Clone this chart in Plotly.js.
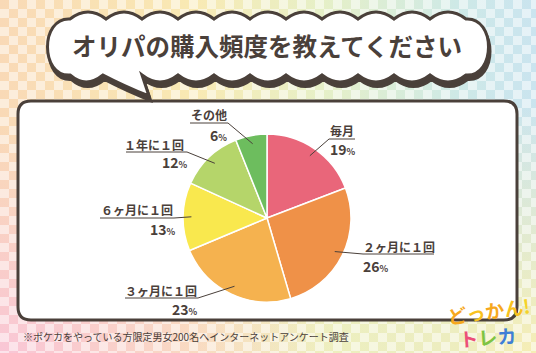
<!DOCTYPE html>
<html>
<head>
<meta charset="utf-8">
<script src="https://cdn.plot.ly/plotly-3.0.1.min.js"></script>
<style>
html,body{margin:0;padding:0;}
body{width:536px;height:353px;overflow:hidden;
background:
 conic-gradient(rgba(255,255,255,0.55) 0 25%, rgba(255,255,255,0.08) 0 50%, rgba(255,255,255,0.55) 0 75%, rgba(255,255,255,0.08) 0) 0 0/18px 18px,
 radial-gradient(ellipse at 0% 100%, rgba(249,192,212,0.95), rgba(249,192,212,0) 45%),
 radial-gradient(ellipse at 100% 100%, rgba(250,238,168,0.9), rgba(250,238,168,0) 50%),
 linear-gradient(to right, #f8d6b0 0%, #f9e7ac 35%, #e4efc2 60%, #cae7e4 85%, #c6e2ee 100%);}
#chart{width:536px;height:353px;}
</style>
</head>
<body>
<div id="chart"></div>
<script>
// ---- data ----
const categories = ['毎月', '２ヶ月に１回', '３ヶ月に１回', '６ヶ月に１回', '１年に１回', 'その他'];
const values = [19, 26, 23, 13, 12, 6];
const titleText = 'オリパの購入頻度を教えてください';
const noteText = '※ポケカをやっている方限定男女200名へインターネットアンケート調査';

// ---- style ----
const colors = ['#e9667a', '#ef9148', '#f5b24f', '#f9e84e', '#b5d56a', '#6dbd5e'];
const dark = '#4a403a';
const FONT = 'Noto Sans CJK JP, Noto Sans, sans-serif';
const W = 536, H = 353;
const px = x => x / W, py = y => 1 - y / H;
const CX = 267, CY = 218, R = 84;

// label placement (pixels)
const labelPos = [
  {nx:342, ny:130, nal:'center', ux0:329, ux1:355, uy:139, ex:329, px:343, py:149, pal:'center'},
  {nx:362, ny:246, nal:'left',   ux0:363, ux1:434, uy:254, ex:363, px:362, py:266, pal:'left'},
  {nx:198, ny:290, nal:'right',  ux0:125, ux1:198, uy:298, ex:198, px:199, py:309, pal:'right'},
  {nx:174, ny:209, nal:'right',  ux0:100, ux1:174, uy:218, ex:174, px:177, py:229, pal:'right'},
  {nx:185, ny:144, nal:'right',  ux0:126, ux1:187, uy:152, ex:187, px:189, py:162, pal:'right'},
  {nx:228, ny:115, nal:'right',  ux0:190, ux1:228, uy:123, ex:228, px:228, py:135, pal:'right'}
];

// path builder in pixel coords -> paper coords
function P(){ this.s=''; }
P.prototype.M=function(x,y){this.s+=`M${px(x)},${py(y)} `;return this;};
P.prototype.L=function(x,y){this.s+=`L${px(x)},${py(y)} `;return this;};
P.prototype.Q=function(a,b,x,y){this.s+=`Q${px(a)},${py(b)} ${px(x)},${py(y)} `;return this;};
P.prototype.C=function(a,b,c,d,x,y){this.s+=`C${px(a)},${py(b)} ${px(c)},${py(d)} ${px(x)},${py(y)} `;return this;};
P.prototype.Z=function(){this.s+='Z';return this.s;};

function cloud(dx, dy){
  const p = new P();
  const tv = 19 + dy, bv = 75 + dy;
  p.M(70+dx, tv);
  for(let x=70; x<466; x+=36){ p.Q(x+18+dx, 5+dy, x+36+dx, tv); }
  p.C(496+dx, 17+dy, 496+dx, 77+dy, 466+dx, bv);
  for(let x=466; x>142; x-=36){ p.Q(x-18+dx, 89+dy, x-36+dx, bv); }
  p.Q(145+dx, 84+dy, 149+dx, 96+dy);
  p.Q(124+dx, 86+dy, 103+dx, bv);
  p.Q(86+dx, 89+dy, 70+dx, bv);
  p.C(40+dx, 77+dy, 40+dx, 17+dy, 70+dx, tv);
  return p.Z();
}
function roundRect(x0,y0,x1,y1,r){
  const p = new P();
  p.M(x0+r,y0).L(x1-r,y0).Q(x1,y0,x1,y0+r).L(x1,y1-r).Q(x1,y1,x1-r,y1)
   .L(x0+r,y1).Q(x0,y1,x0,y1-r).L(x0,y0+r).Q(x0,y0,x0+r,y0);
  return p.Z();
}

const shapes = [
  {type:'path', xref:'paper', yref:'paper', layer:'below', path: roundRect(18,101,517,320,13),
   fillcolor:'#ffffff', line:{color:dark, width:3}},
  {type:'path', xref:'paper', yref:'paper', layer:'below', path: cloud(1.5,4.5),
   fillcolor:dark, line:{color:dark, width:3}},
  {type:'path', xref:'paper', yref:'paper', layer:'below', path: cloud(0,0),
   fillcolor:'#ffffff', line:{color:dark, width:3}}
];

const annotations = [
  {xref:'paper', yref:'paper', x:px(267), y:py(45), text:'<b>'+titleText+'</b>', showarrow:false,
   xanchor:'center', yanchor:'middle', font:{family:FONT, size:24.5, color:dark, weight:'bold'}},
  {xref:'paper', yref:'paper', x:px(21), y:py(336), text:noteText, showarrow:false,
   xanchor:'left', yanchor:'middle', font:{family:FONT, size:10, color:dark}},
  {xref:'paper', yref:'paper', x:px(488), y:py(310), textangle:-8, showarrow:false,
   text:'<b><span style="color:#f6a81d">ど</span><span style="color:#f8c21f">っ</span><span style="color:#f6a81d">か</span><span style="color:#f8c21f">ん</span><span style="color:#f5d328">!</span></b>',
   xanchor:'center', yanchor:'middle', font:{family:FONT, size:19, color:'#f6a81d'}},
  {xref:'paper', yref:'paper', x:px(487), y:py(336), textangle:-4, showarrow:false,
   text:'<b><span style="color:#ec4f79">ト</span><span style="color:#7ec443">レ</span><span style="color:#3f7fd6">カ</span></b>',
   xanchor:'center', yanchor:'middle', font:{family:FONT, size:19, color:'#ec4f79'}}
];

// labels + leader lines computed from the data
const total = values.reduce((a,b)=>a+b,0);
let cum = 0;
values.forEach((v,i)=>{
  const mid = (cum + v/2) / total * 2 * Math.PI;
  cum += v;
  const ix = CX + 0.9*R*Math.sin(mid), iy = CY - 0.9*R*Math.cos(mid);
  const L = labelPos[i];
  shapes.push({type:'line', xref:'paper', yref:'paper', x0:px(ix), y0:py(iy), x1:px(L.ex), y1:py(L.uy),
    line:{color:dark, width:1}});
  shapes.push({type:'line', xref:'paper', yref:'paper', x0:px(L.ux0), y0:py(L.uy), x1:px(L.ux1), y1:py(L.uy),
    line:{color:dark, width:1}});
  annotations.push({xref:'paper', yref:'paper', x:px(L.nx), y:py(L.ny), text:'<b>'+categories[i]+'</b>',
    showarrow:false, xanchor:L.nal, yanchor:'middle', borderpad:0,
    font:{family:FONT, size:12, color:dark, weight:'bold'}});
  annotations.push({xref:'paper', yref:'paper', x:px(L.px), y:py(L.py),
    text:'<b>'+v+'</b><span style="font-size:9px">%</span>',
    showarrow:false, xanchor:L.pal, yanchor:'middle', borderpad:0,
    font:{family:FONT, size:14, color:dark, weight:'bold'}});
});

const trace = {
  type:'pie', labels:categories, values:values, sort:false, direction:'clockwise', rotation:0,
  textinfo:'none', hoverinfo:'label+percent', showlegend:false,
  marker:{colors:colors, line:{color:'#ffffff', width:1.5}},
  domain:{x:[px(CX-R), px(CX+R)], y:[py(CY+R), py(CY-R)]}
};

Plotly.newPlot('chart', [trace], {
  width:W, height:H, margin:{l:0,r:0,t:0,b:0},
  paper_bgcolor:'rgba(0,0,0,0)', plot_bgcolor:'rgba(0,0,0,0)',
  showlegend:false, shapes:shapes, annotations:annotations
}, {displayModeBar:false, staticPlot:true});
</script>
</body>
</html>
